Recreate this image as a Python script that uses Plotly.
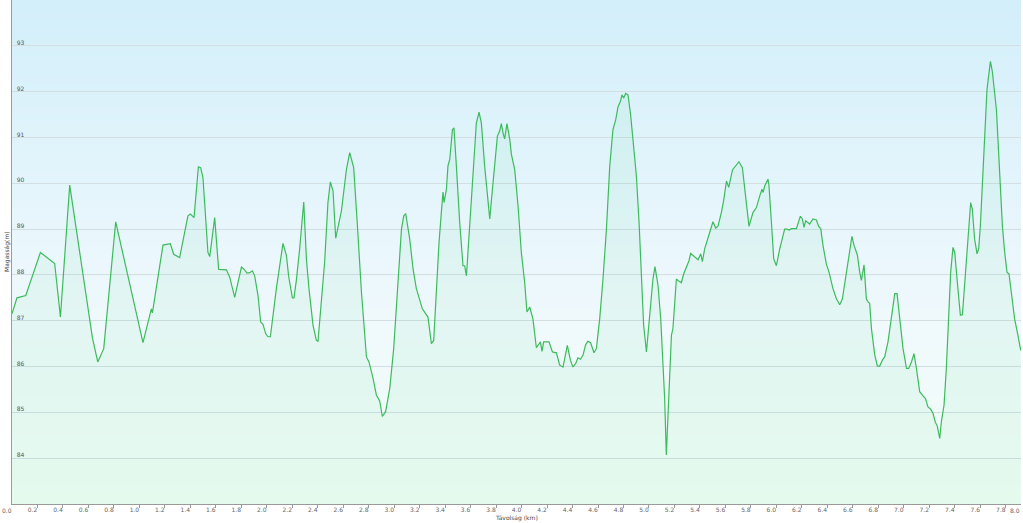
import plotly.graph_objects as go

# ---- data (distance in km, elevation in m) ----
distance_km = [
    0.0, 0.039, 0.108, 0.223, 0.335, 0.380, 0.453, 0.631, 0.673, 0.720,
    0.814, 1.028, 1.094, 1.102, 1.185, 1.243, 1.269, 1.316, 1.381, 1.400,
    1.429, 1.463, 1.481, 1.499, 1.538, 1.552, 1.591, 1.622, 1.683, 1.709,
    1.748, 1.801, 1.819, 1.845, 1.866, 1.887, 1.905, 1.931, 1.952, 1.970,
    1.991, 2.009, 2.028, 2.075, 2.127, 2.154, 2.172, 2.201, 2.213, 2.232,
    2.258, 2.290, 2.311, 2.331, 2.363, 2.389, 2.402, 2.429, 2.454, 2.480,
    2.499, 2.520, 2.541, 2.586, 2.625, 2.651, 2.682, 2.708, 2.743, 2.782,
    2.802, 2.834, 2.860, 2.886, 2.907, 2.933, 2.965, 2.996, 3.030, 3.057,
    3.075, 3.090, 3.122, 3.148, 3.174, 3.200, 3.221, 3.265, 3.292, 3.310,
    3.331, 3.352, 3.370, 3.383, 3.391, 3.410, 3.422, 3.436, 3.457, 3.469,
    3.488, 3.514, 3.540, 3.553, 3.567, 3.593, 3.619, 3.645, 3.666, 3.684,
    3.710, 3.750, 3.771, 3.789, 3.810, 3.828, 3.841, 3.854, 3.867, 3.885,
    3.907, 3.920, 3.946, 3.972, 3.998, 4.024, 4.042, 4.064, 4.089, 4.116,
    4.129, 4.148, 4.160, 4.173, 4.215, 4.242, 4.273, 4.299, 4.325, 4.359,
    4.383, 4.403, 4.425, 4.443, 4.462, 4.482, 4.503, 4.521, 4.542, 4.568,
    4.587, 4.613, 4.639, 4.666, 4.692, 4.717, 4.739, 4.757, 4.776, 4.788,
    4.801, 4.817, 4.835, 4.854, 4.874, 4.901, 4.922, 4.940, 4.958, 4.980,
    5.006, 5.031, 5.047, 5.071, 5.092, 5.110, 5.123, 5.136, 5.149, 5.162,
    5.176, 5.188, 5.202, 5.215, 5.228, 5.254, 5.272, 5.294, 5.314, 5.327,
    5.345, 5.385, 5.406, 5.419, 5.437, 5.463, 5.482, 5.502, 5.524, 5.542,
    5.568, 5.586, 5.608, 5.626, 5.655, 5.673, 5.706, 5.733, 5.764, 5.785,
    5.816, 5.843, 5.869, 5.887, 5.896, 5.908, 5.934, 5.942, 5.961, 5.979,
    6.000, 6.026, 6.065, 6.083, 6.099, 6.118, 6.157, 6.188, 6.204, 6.217,
    6.230, 6.261, 6.287, 6.314, 6.332, 6.348, 6.366, 6.392, 6.413, 6.444,
    6.471, 6.497, 6.518, 6.550, 6.575, 6.593, 6.609, 6.636, 6.654, 6.667,
    6.688, 6.706, 6.719, 6.732, 6.746, 6.758, 6.772, 6.793, 6.811, 6.832,
    6.850, 6.876, 6.903, 6.929, 6.947, 6.968, 6.994, 7.021, 7.039, 7.060,
    7.080, 7.099, 7.125, 7.151, 7.170, 7.190, 7.211, 7.229, 7.248, 7.261,
    7.282, 7.295, 7.316, 7.334, 7.352, 7.368, 7.386, 7.400, 7.418, 7.444,
    7.460, 7.478, 7.496, 7.512, 7.525, 7.538, 7.556, 7.575, 7.588, 7.601,
    7.622, 7.637, 7.653, 7.669, 7.680, 7.695, 7.711, 7.727, 7.739, 7.758,
    7.774, 7.792, 7.810, 7.826, 7.845, 7.870, 7.896, 7.918,
]

elevation_m = [
    87.15, 87.50, 87.55, 88.49, 88.25, 87.08, 89.96, 86.63, 86.10, 86.39,
    89.16, 86.52, 87.26, 87.17, 88.65, 88.68, 88.45, 88.38, 89.29, 89.33,
    89.25, 90.36, 90.34, 90.12, 88.49, 88.40, 89.25, 88.12, 88.11, 87.95,
    87.51, 88.17, 88.13, 88.04, 88.05, 88.09, 87.98, 87.55, 86.97, 86.92,
    86.72, 86.65, 86.65, 87.70, 88.69, 88.42, 87.96, 87.50, 87.50, 87.88,
    88.57, 89.59, 88.35, 87.70, 86.90, 86.57, 86.55, 87.41, 88.28, 89.58,
    90.03, 89.83, 88.80, 89.40, 90.30, 90.67, 90.34, 89.22, 87.62, 86.21,
    86.10, 85.74, 85.38, 85.25, 84.91, 85.02, 85.52, 86.39, 87.84, 89.00,
    89.29, 89.34, 88.78, 88.13, 87.70, 87.44, 87.26, 87.08, 86.50, 86.57,
    87.70, 88.71, 89.36, 89.81, 89.58, 89.87, 90.38, 90.52, 91.17, 91.21,
    90.38, 89.15, 88.20, 88.20, 87.98, 89.15, 90.16, 91.32, 91.55, 91.32,
    90.38, 89.22, 89.87, 90.45, 91.03, 91.14, 91.30, 91.10, 90.97, 91.30,
    90.96, 90.63, 90.30, 89.51, 88.49, 87.84, 87.19, 87.30, 87.04, 86.41,
    86.46, 86.54, 86.33, 86.54, 86.54, 86.32, 86.30, 86.03, 85.99, 86.46,
    86.14, 85.99, 86.07, 86.19, 86.16, 86.25, 86.48, 86.55, 86.52, 86.30,
    86.39, 87.04, 87.91, 89.00, 90.38, 91.17, 91.39, 91.67, 91.79, 91.93,
    91.86, 91.96, 91.93, 91.54, 90.96, 90.16, 89.15, 88.06, 86.90, 86.32,
    87.19, 87.91, 88.18, 87.77, 87.04, 86.17, 85.30, 84.07, 84.87, 85.74,
    86.68, 86.83, 87.33, 87.91, 87.88, 87.83, 88.02, 88.17, 88.31, 88.47,
    88.42, 88.33, 88.46, 88.29, 88.57, 88.82, 89.00, 89.16, 89.02, 89.07,
    89.36, 89.62, 90.05, 89.91, 90.29, 90.36, 90.47, 90.34, 89.51, 89.06,
    89.36, 89.47, 89.72, 89.87, 89.80, 89.94, 90.09, 89.94, 89.15, 88.35,
    88.20, 88.57, 89.00, 89.00, 88.98, 89.01, 89.01, 89.28, 89.22, 89.04,
    89.18, 89.11, 89.22, 89.20, 89.06, 89.01, 88.64, 88.24, 88.06, 87.70,
    87.48, 87.35, 87.48, 88.06, 88.57, 88.84, 88.65, 88.43, 88.06, 87.88,
    88.22, 87.48, 87.41, 87.38, 86.83, 86.54, 86.25, 86.01, 86.01, 86.14,
    86.21, 86.54, 87.04, 87.59, 87.59, 87.04, 86.39, 85.96, 85.96, 86.10,
    86.28, 85.96, 85.45, 85.36, 85.30, 85.12, 85.07, 84.98, 84.78, 84.72,
    84.43, 84.80, 85.16, 85.96, 87.12, 88.06, 88.60, 88.49, 87.91, 87.12,
    87.13, 87.77, 88.49, 89.07, 89.58, 89.43, 88.78, 88.46, 88.57, 89.07,
    90.23, 91.25, 92.04, 92.41, 92.66, 92.44, 92.04, 91.61, 90.96, 89.94,
    89.07, 88.49, 88.06, 88.02, 87.62, 87.04, 86.68, 86.35,
]

x_tick_vals = [0.2, 0.4, 0.6, 0.8, 1.0, 1.2, 1.4, 1.6, 1.8,
               2.0, 2.2, 2.4, 2.6, 2.8, 3.0, 3.2, 3.4, 3.6, 3.8,
               4.0, 4.2, 4.4, 4.6, 4.8, 5.0, 5.2, 5.4, 5.6, 5.8,
               6.0, 6.2, 6.4, 6.6, 6.8, 7.0, 7.2, 7.4, 7.6, 7.8]
x_tick_labels = ["%.1f" % v for v in x_tick_vals]
x_start_label = "0.0"
x_end_label = "8.0"
y_tick_vals = [84, 85, 86, 87, 88, 89, 90, 91, 92, 93]
y_tick_labels = [str(v) for v in y_tick_vals]

x_title = "Távolság (km)"
y_title = "Magasság(m)"

# ---- styling ----
LINE_COLOR = "#3dbb5c"
FILL_COLOR = "rgba(40,200,110,0.06)"
GRID_COLOR = "#d3dee3"
AXIS_COLOR = "#9a9a9a"
FONT = "DejaVu Sans"
TICK_FONT = dict(family=FONT, size=6, color="#666666")

fig = go.Figure()
fig.add_trace(go.Scatter(
    x=distance_km, y=elevation_m, mode="lines",
    line=dict(color=LINE_COLOR, width=1.2),
    fill="tozeroy", fillcolor=FILL_COLOR,
    hoverinfo="x+y", showlegend=False,
))

# vertical background gradient (light mint at bottom -> near white -> light blue at top)
stops = [(0.0, (241, 253, 246)), (0.35, (240, 249, 252)), (0.55, (232, 246, 252)),
         (1.0, (210, 239, 250))]


def color_at(t):
    for (t0, c0), (t1, c1) in zip(stops[:-1], stops[1:]):
        if t0 <= t <= t1:
            f = (t - t0) / (t1 - t0) if t1 > t0 else 0
            return "rgb(%d,%d,%d)" % tuple(round(a + (b - a) * f) for a, b in zip(c0, c1))
    return "rgb(%d,%d,%d)" % stops[-1][1]


shapes = []
n_bands = 80
for i in range(n_bands):
    y0 = i / n_bands
    y1 = (i + 1) / n_bands + 0.002
    shapes.append(dict(type="rect", xref="paper", yref="paper", x0=0, x1=1,
                       y0=y0, y1=min(y1, 1), fillcolor=color_at((i + 0.5) / n_bands),
                       line=dict(width=0), layer="below"))

fig.update_layout(
    width=1023, height=523,
    margin=dict(l=12, r=2, t=0, b=19, autoexpand=False),
    paper_bgcolor="white",
    plot_bgcolor="rgba(0,0,0,0)",
    shapes=shapes,
    font=dict(family=FONT, size=6, color="#555555"),
    xaxis=dict(
        range=[0, 7.92], tickvals=x_tick_vals, ticktext=x_tick_labels,
        ticks="outside", ticklen=3, tickcolor=AXIS_COLOR, tickwidth=1,
        showgrid=False, zeroline=False, showline=True, linecolor=AXIS_COLOR,
        linewidth=1, ticklabelshift=-5, ticklabelstandoff=-3,
        ticklabeloverflow="allow",
        tickfont=TICK_FONT,
        fixedrange=True,
    ),
    yaxis=dict(
        range=[83, 94], tickvals=y_tick_vals, ticktext=y_tick_labels,
        ticks="", showgrid=True, gridcolor=GRID_COLOR, gridwidth=1,
        zeroline=False, showline=True, linecolor=AXIS_COLOR, linewidth=1,
        ticklabelposition="inside", ticklabelshift=-3, ticklabelstandoff=3,
        tickfont=dict(family=FONT, size=6, color="#555555"),
        fixedrange=True,
    ),
    annotations=[
        dict(text=x_title, xref="paper", yref="paper", x=0.5, y=0,
             yshift=-14, showarrow=False, yanchor="middle",
             font=dict(family=FONT, size=6, color="#444444")),
        dict(text=y_title, xref="paper", yref="paper", x=0, y=0.5,
             xshift=-5, showarrow=False, textangle=-90, xanchor="center",
             font=dict(family=FONT, size=6, color="#444444")),
        dict(text=x_start_label, xref="paper", yref="paper", x=0, y=0,
             yshift=-6, xshift=-5, showarrow=False, xanchor="center", yanchor="middle",
             font=TICK_FONT),
        dict(text=x_end_label, xref="paper", yref="paper", x=1, y=0,
             yshift=-6, xshift=1, showarrow=False, xanchor="right", yanchor="middle",
             font=TICK_FONT),
    ],
)

fig.write_html("out.html", config={"displayModeBar": False},
               post_script="document.body.style.margin='0';document.body.style.overflow='hidden';")
